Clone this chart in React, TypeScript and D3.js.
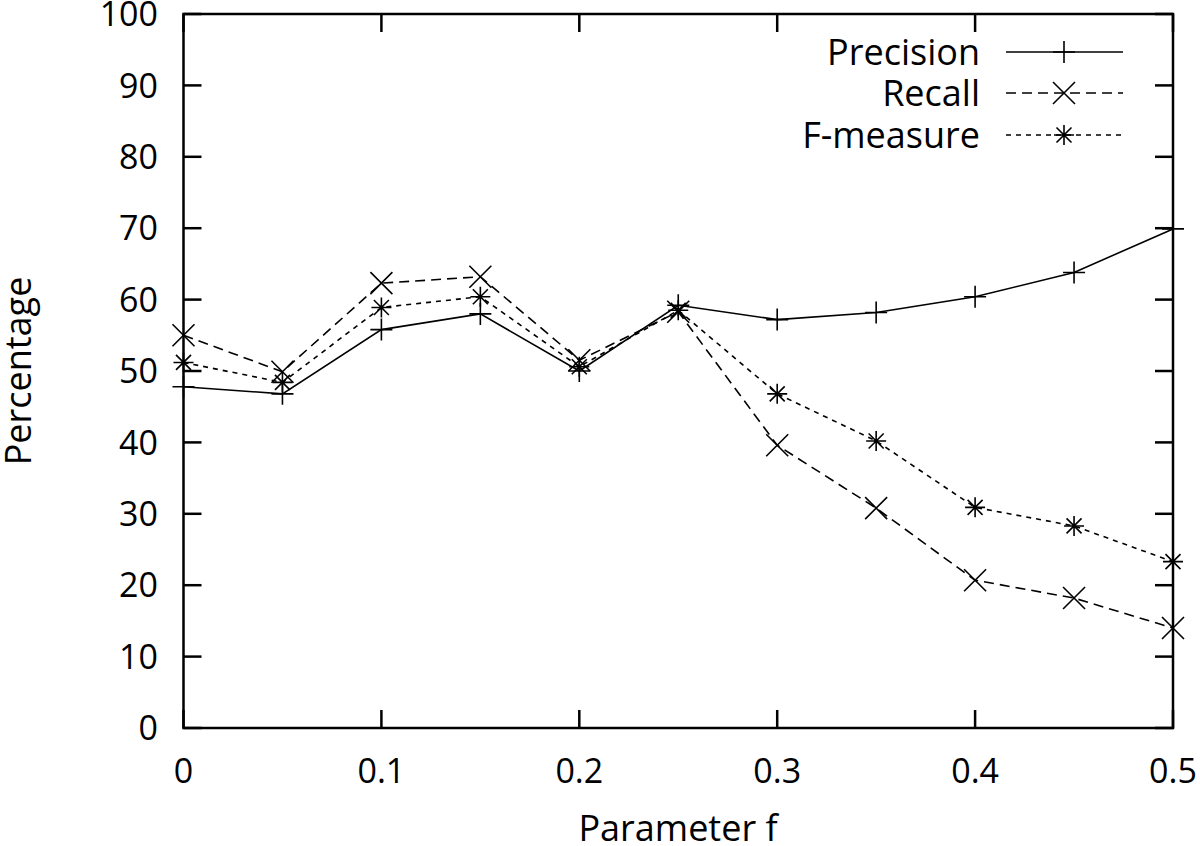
import React from "react";
import * as d3 from "d3";

const params = [0, 0.05, 0.1, 0.15, 0.2, 0.25, 0.3, 0.35, 0.4, 0.45, 0.5];
const precision = [47.8, 46.8, 55.8, 58.0, 50.0, 59.2, 57.2, 58.2, 60.4, 63.8, 69.9];
const recall = [55.0, 49.9, 62.3, 63.2, 51.5, 58.3, 39.6, 30.8, 20.7, 18.2, 14.0];
const fmeasure = [51.2, 48.4, 58.9, 60.4, 50.6, 58.5, 46.8, 40.2, 30.9, 28.3, 23.3];
const xTicks = [0, 0.1, 0.2, 0.3, 0.4, 0.5];
const yTicks = [0, 10, 20, 30, 40, 50, 60, 70, 80, 90, 100];
const seriesNames = ["Precision", "Recall", "F-measure"];

const W = 1200;
const H = 846;
const left = 183.5;
const right = 1173;
const top = 14;
const bottom = 728;
const FONT = "'Open Sans', sans-serif";
const FS = 34;
const FS2 = 36;

function marker(kind: string, cx: number, cy: number) {
  if (kind === "plus") {
    const s = 11;
    return `M${cx - s},${cy}L${cx + s},${cy}M${cx},${cy - s}L${cx},${cy + s}`;
  }
  if (kind === "cross") {
    const s = 11;
    return `M${cx - s},${cy - s}L${cx + s},${cy + s}M${cx - s},${cy + s}L${cx + s},${cy - s}`;
  }
  const s = 10;
  const d = 7.5;
  return `M${cx - s},${cy}L${cx + s},${cy}M${cx},${cy - s}L${cx},${cy + s}M${cx - d},${cy - d}L${cx + d},${cy + d}M${cx - d},${cy + d}L${cx + d},${cy - d}`;
}

export default function App() {
  const x = d3.scaleLinear().domain([0, 0.5]).range([left, right]);
  const y = d3.scaleLinear().domain([0, 100]).range([bottom, top]);
  const line = d3
    .line<number>()
    .x((_, i) => x(params[i]))
    .y((v) => y(v));

  const series = [
    { name: seriesNames[0], values: precision, dash: "none", kind: "plus" },
    { name: seriesNames[1], values: recall, dash: "10,6", kind: "cross" },
    { name: seriesNames[2], values: fmeasure, dash: "5,5", kind: "star" },
  ];

  const legendY = [52, 93, 135];
  const tick = 18;

  return (
    <svg width={W} height={H} style={{ display: "block", position: "absolute", left: 0, top: 0 }}>
      <rect width={W} height={H} fill="#fff" />
      {/* ticks */}
      {yTicks.map((t) => (
        <g key={"y" + t}>
          <line x1={left} x2={left + tick} y1={y(t)} y2={y(t)} stroke="#000" strokeWidth={2.5} />
          <line x1={right} x2={right - tick} y1={y(t)} y2={y(t)} stroke="#000" strokeWidth={2.5} />
          <text x={158} y={y(t)} dy="0.36em" textAnchor="end" fontFamily={FONT} fontSize={FS} fill="#000">
            {t}
          </text>
        </g>
      ))}
      {xTicks.map((t) => (
        <g key={"x" + t}>
          <line x1={x(t)} x2={x(t)} y1={bottom} y2={bottom - tick} stroke="#000" strokeWidth={2.5} />
          <line x1={x(t)} x2={x(t)} y1={top} y2={top + tick} stroke="#000" strokeWidth={2.5} />
          <text x={x(t)} y={783} textAnchor="middle" fontFamily={FONT} fontSize={FS} fill="#000">
            {t === 0 ? "0" : d3.format(".1f")(t)}
          </text>
        </g>
      ))}
      <rect x={left} y={top} width={right - left} height={bottom - top} fill="none" stroke="#000" strokeWidth={2.5} />
      {/* series */}
      {series.map((s) => (
        <g key={s.name}>
          <path d={line(s.values) || ""} fill="none" stroke="#000" strokeWidth={1.6} strokeDasharray={s.dash} />
          {s.values.map((v, i) => (
            <path key={i} d={marker(s.kind, x(params[i]), y(v))} stroke="#000" strokeWidth={1.6} fill="none" />
          ))}
        </g>
      ))}
      {/* legend */}
      {series.map((s, i) => (
        <g key={"lg" + s.name}>
          <text x={980} y={legendY[i]} dy="0.36em" textAnchor="end" fontFamily={FONT} fontSize={FS2} fill="#000">
            {s.name}
          </text>
          <line x1={1006} x2={1123} y1={legendY[i]} y2={legendY[i]} stroke="#000" strokeWidth={1.6} strokeDasharray={s.dash} />
          <path d={marker(s.kind, 1064, legendY[i])} stroke="#000" strokeWidth={1.6} fill="none" />
        </g>
      ))}
      {/* axis titles */}
      <text x={678} y={841} textAnchor="middle" fontFamily={FONT} fontSize={FS2} fill="#000">
        Parameter f
      </text>
      <text
        transform={`translate(31,371) rotate(-90)`}
        textAnchor="middle"
        fontFamily={FONT}
        fontSize={FS2}
        fill="#000"
      >
        Percentage
      </text>
    </svg>
  );
}
